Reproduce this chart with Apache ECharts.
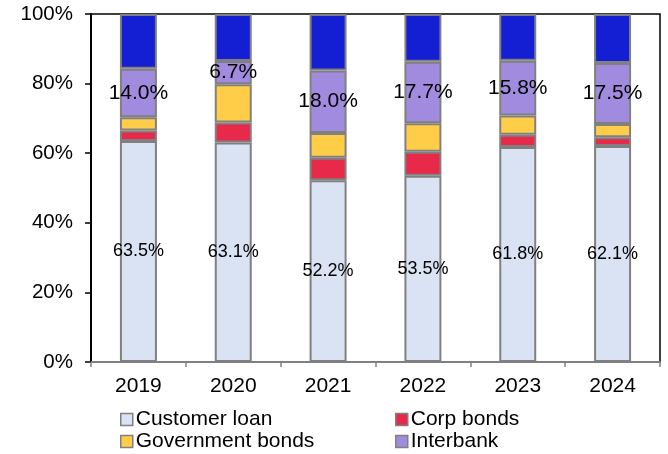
<!DOCTYPE html>
<html>
<head>
<meta charset="utf-8">
<script src="https://cdn.jsdelivr.net/npm/echarts@6/dist/echarts.min.js"></script>
<style>
  html, body { margin: 0; padding: 0; background: #fff; }
  #chart { width: 668px; height: 454px; }
</style>
</head>
<body>
<div id="chart"></div>
<script>
// Asset mix by year, share of total (%)
const years = ['2019', '2020', '2021', '2022', '2023', '2024'];
const customerLoan = [63.5, 63.1, 52.2, 53.5, 61.8, 62.1];
const corpBonds = [3.0, 5.7, 6.5, 6.9, 3.5, 2.5];
const governmentBonds = [3.8, 11.0, 7.1, 8.2, 5.5, 3.8];
const interbank = [14.0, 6.7, 18.0, 17.7, 15.8, 17.5];
const otherAssets = [15.7, 13.5, 16.2, 13.7, 13.4, 14.1];
const yTicks = [0, 20, 40, 60, 80, 100];
const legendOrder = ['Customer loan', 'Corp bonds', 'Government bonds', 'Interbank'];

const FONT = '"Liberation Sans", Arial, Helvetica, sans-serif';
const EDGE = '#808080';

function stackSeries(name, data, color, label) {
  return {
    name: name,
    type: 'bar',
    stack: 'mix',
    data: data,
    barWidth: '39%',
    itemStyle: { color: color, borderColor: EDGE, borderWidth: 2 },
    label: label || { show: false },
    emphasis: { disabled: true }
  };
}

// legend laid out as a 2 x 2 block, one component per entry
const legendSlots = [[120, 409], [395, 409], [120, 431], [395, 431]];
const legends = legendOrder.map((name, i) => ({
  data: [{ name: name, icon: 'rect' }],
  left: legendSlots[i][0],
  top: legendSlots[i][1],
  padding: 0,
  itemWidth: 12, itemHeight: 12,
  itemStyle: { borderColor: EDGE, borderWidth: 1.5 },
  textStyle: { fontFamily: FONT, fontSize: 21, color: '#000', padding: [0, 0, 0, -2] },
  selectedMode: false
}));

const chart = echarts.init(document.getElementById('chart'), null, { renderer: 'canvas' });

chart.setOption({
  animation: false,
  textStyle: { fontFamily: FONT },
  grid: {
    left: 91, right: 8, top: 14, bottom: 92,
    show: true, borderColor: '#000', borderWidth: 1.5, backgroundColor: 'transparent'
  },
  legend: legends,
  xAxis: {
    type: 'category',
    data: years,
    axisLine: { lineStyle: { color: EDGE, width: 2 } },
    axisTick: { show: true, length: 5, lineStyle: { color: EDGE, width: 1.5 } },
    axisLabel: { color: '#000', fontSize: 21, fontFamily: FONT, margin: 14 }
  },
  yAxis: {
    type: 'value',
    min: yTicks[0],
    max: yTicks[yTicks.length - 1],
    interval: 20,
    axisLine: { show: true, lineStyle: { color: '#000', width: 2 } },
    axisTick: { show: true, length: 6, lineStyle: { color: '#000', width: 1.5 } },
    axisLabel: { color: '#000', fontSize: 20.5, fontFamily: FONT, margin: 18, formatter: '{value}%' },
    splitLine: { show: false }
  },
  series: [
    stackSeries('Customer loan', customerLoan, '#DAE3F3', {
      show: true, position: 'inside', color: '#000', fontSize: 18, fontFamily: FONT,
      formatter: p => p.value.toFixed(1) + '%'
    }),
    stackSeries('Corp bonds', corpBonds, '#E8294A'),
    stackSeries('Government bonds', governmentBonds, '#FFCD48'),
    stackSeries('Interbank', interbank, '#A18BDF', {
      show: true, position: 'inside', color: '#000', fontSize: 21, fontFamily: FONT,
      formatter: p => p.value.toFixed(1) + '%'
    }),
    stackSeries('Other', otherAssets, '#141ED2')
  ]
});
</script>
</body>
</html>
